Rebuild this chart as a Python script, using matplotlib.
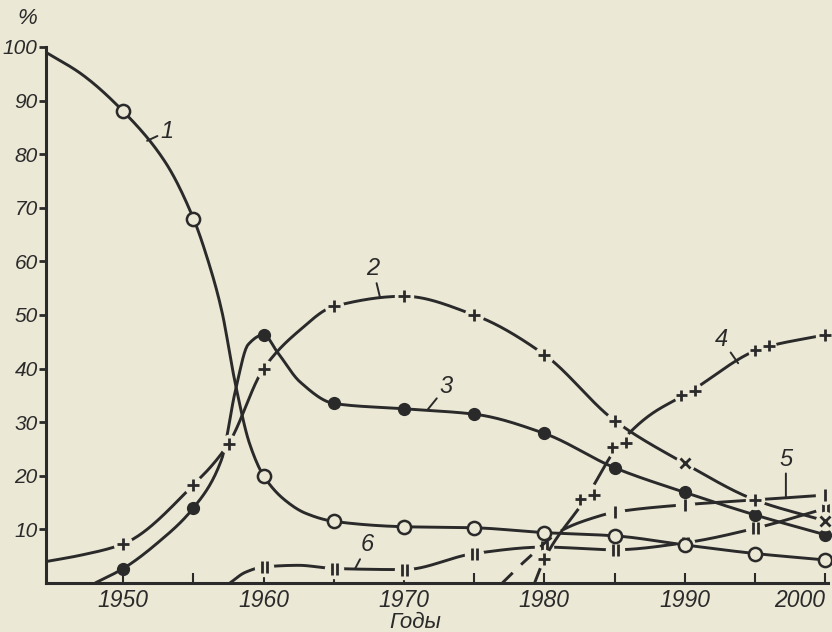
import numpy as np
import matplotlib
matplotlib.use("Agg")
import matplotlib.pyplot as plt
from matplotlib.path import Path

# curve 1 (open circles)
years1 = [1944.5, 1947, 1950, 1953, 1955, 1956, 1957, 1958, 1959, 1960, 1961.5, 1963, 1965,
          1970, 1975, 1980, 1985, 1990, 1995, 2000]
vals1 = [99, 95, 88, 78.5, 68, 60.5, 51, 37, 26, 20, 15.5, 13, 11.5,
         10.5, 10.3, 9.4, 8.8, 7.1, 5.5, 4.3]
marks1 = ['', '', 'o', '', 'o', '', '', '', '', 'o', '', '', 'o',
          'o', 'o', 'o', 'o', 'o', 'o', 'o']

# curve 2 (crosses)
years2 = [1944.5, 1947, 1950, 1955, 1957.5, 1960, 1962.5, 1965, 1970, 1975, 1980, 1985, 1990, 1995, 2000]
vals2 = [4, 5.2, 7.3, 18.3, 26, 40, 47, 51.6, 53.5, 50, 42.6, 30.3, 22.3, 15.5, 11.6]
marks2 = ['', '', '+', '+', '+', '+', '', '+', '+', '+', '+', '+', 'x', '+', 'x']

# curve 3 (filled circles)
years3 = [1948, 1950, 1952.5, 1955, 1957, 1958, 1958.9, 1960, 1961, 1962.6, 1965,
          1970, 1975, 1980, 1985, 1990, 1995, 2000]
vals3 = [0, 2.7, 7.6, 14, 23, 36, 44.5, 46.3, 43, 37.5, 33.5,
         32.5, 31.5, 27.9, 21.5, 16.9, 12.7, 9.0]
marks3 = ['', '.', '', '.', '', '', '', '.', '', '', '.',
          '.', '.', '.', '.', '.', '.', '.']

# curve 4 (double crosses)
years4 = [1979.3, 1980, 1983, 1985.3, 1987.5, 1990.2, 1995.5, 2000]
vals4 = [0, 4.5, 16, 25.8, 31.3, 35.4, 43.8, 46.3]
marks4 = ['', '+', '++', '++', '', '++', '++', '+']

# curve 5 (single bars), dashed at its start
years5 = [1977, 1978.7, 1981.3, 1983.3, 1985, 1990, 1995, 2000]
vals5 = [0, 4.3, 9.9, 12, 13.2, 14.6, 15.5, 16.4]
marks5 = ['', '', '', '', '|', '|', '', '|']
dash_until5 = 1981.3

# curve 6 (double bars)
years6 = [1957.6, 1958.7, 1960, 1962.5, 1965, 1970, 1975, 1980, 1985, 1990, 1995, 2000]
vals6 = [0, 2, 3, 3.3, 2.7, 2.5, 5.5, 6.7, 6.2, 7.5, 10.2, 13.9]
marks6 = ['', '', '||', '', '||', '||', '||', '||', '||', '||', '||', '||']

xtick_years = [1950, 1960, 1970, 1980, 1990, 2000]
ytick_vals = list(range(10, 101, 10))

bg = '#ece8d6'
ink = '#2a2a2a'


def pchip(x, y, xs):
    x = np.asarray(x, float)
    y = np.asarray(y, float)
    h = np.diff(x)
    d = np.diff(y) / h
    m = np.zeros_like(y)
    m[0], m[-1] = d[0], d[-1]
    for k in range(1, len(x) - 1):
        if d[k - 1] * d[k] > 0:
            w1 = 2 * h[k] + h[k - 1]
            w2 = h[k] + 2 * h[k - 1]
            m[k] = (w1 + w2) / (w1 / d[k - 1] + w2 / d[k])
    i = np.clip(np.searchsorted(x, xs) - 1, 0, len(h) - 1)
    t = (xs - x[i]) / h[i]
    return ((2 * t**3 - 3 * t**2 + 1) * y[i] + (t**3 - 2 * t**2 + t) * h[i] * m[i]
            + (-2 * t**3 + 3 * t**2) * y[i + 1] + (t**3 - t**2) * h[i] * m[i + 1])


M, L = Path.MOVETO, Path.LINETO
double_bar = Path([(-0.4, -1), (-0.4, 1), (0.4, -1), (0.4, 1)], [M, L, M, L])
double_plus = Path([(-1.1, -0.2), (-0.1, -0.2), (-0.6, -0.7), (-0.6, 0.3),
                    (0.1, 0.2), (1.1, 0.2), (0.6, -0.3), (0.6, 0.7)],
                   [M, L, M, L, M, L, M, L])

fig = plt.figure(figsize=(8.32, 6.32), dpi=100, facecolor=bg)
ax = fig.add_axes([46 / 832, 49 / 632, 782 / 832, 536 / 632])
ax.set_facecolor(bg)


def draw(years, vals, marks, z, dash_until=None):
    xs = np.linspace(years[0], years[-1], 500)
    ys = pchip(years, vals, xs)
    if dash_until is None:
        ax.plot(xs, ys, color=ink, lw=2.1, zorder=z, solid_capstyle='butt')
    else:
        a = xs <= dash_until
        b = xs >= dash_until
        ax.plot(xs[a], ys[a], color=ink, lw=2.1, zorder=z, ls=(0, (5, 4)))
        ax.plot(xs[b], ys[b], color=ink, lw=2.1, zorder=z, solid_capstyle='butt')
    for x, y, m in zip(years, vals, marks):
        if not m:
            continue
        if m == 'o':
            ax.plot(x, y, 'o', ms=9.5, mfc=bg, mec=ink, mew=1.8, zorder=z + 0.2, clip_on=False)
        elif m == '.':
            ax.plot(x, y, 'o', ms=8.5, mfc=ink, mec=ink, zorder=z + 0.2, clip_on=False)
        else:
            gap = 21 if m == '++' else 14
            ax.plot(x, y, 'o', ms=gap, mfc=bg, mec='none', zorder=z + 0.1, clip_on=False)
            shape = {'+': '+', 'x': 'x', '|': '|', '||': double_bar, '++': double_plus}[m]
            size = {'+': 9, 'x': 7.5, '|': 9, '||': 9, '++': 18}[m]
            ax.plot(x, y, marker=shape, ms=size, mec=ink, mew=2, ls='none',
                    zorder=z + 0.2, clip_on=False)


draw(years6, vals6, marks6, 2)
draw(years5, vals5, marks5, 3, dash_until=dash_until5)
draw(years4, vals4, marks4, 4)
draw(years1, vals1, marks1, 5)
draw(years3, vals3, marks3, 6)
draw(years2, vals2, marks2, 7)

ax.set_xlim(1944.5, 2000.2)
ax.set_ylim(0, 100)
for s in ['top', 'right']:
    ax.spines[s].set_visible(False)
for s in ['left', 'bottom']:
    ax.spines[s].set_linewidth(2.2)
    ax.spines[s].set_color(ink)

tick_font = dict(family='Liberation Sans', style='italic')
ax.set_xticks(xtick_years)
ax.set_xticks([1955, 1965, 1975, 1985, 1995], minor=True)
ax.set_xticklabels([str(y) for y in xtick_years], fontsize=16.5, color=ink, **tick_font)
ax.get_xticklabels()[-1].set_horizontalalignment('right')
ax.set_yticks(ytick_vals)
ax.set_yticklabels([str(v) for v in ytick_vals], fontsize=15, color=ink, **tick_font)
ax.tick_params(axis='x', which='both', direction='in', length=7, width=1.5, color=ink, pad=4)
ax.tick_params(axis='y', direction='out', length=5, width=2, color=ink, pad=1)

# curve numbers with leaders
labels = [('1', (1953.1, 84.2), (1951.7, 82.5)),
          ('2', (1967.8, 58.6), (1968.3, 53.2)),
          ('3', (1973.0, 36.6), (1971.7, 32.4)),
          ('4', (1992.6, 45.5), (1993.8, 41.0)),
          ('5', (1997.2, 23.1), (1997.2, 16.0)),
          ('6', (1967.4, 7.1), (1966.5, 2.6))]
for txt, pos, tip in labels:
    ax.annotate(txt, xy=tip, xytext=pos, fontsize=17, color=ink, ha='center', va='center',
                family='Liberation Sans', style='italic', zorder=10,
                arrowprops=dict(arrowstyle='-', color=ink, lw=1.4, shrinkA=0, shrinkB=0))

fig.text(27 / 832, 1 - 18 / 632, '%', fontsize=16, color=ink, ha='center', va='center',
         family='Liberation Sans', style='italic')
fig.text(415 / 832, 1 - 622 / 632, 'Годы', fontsize=16, color=ink, ha='center', va='center',
         family='Liberation Sans', style='italic')

fig.savefig('out.png', dpi=100, facecolor=bg)
